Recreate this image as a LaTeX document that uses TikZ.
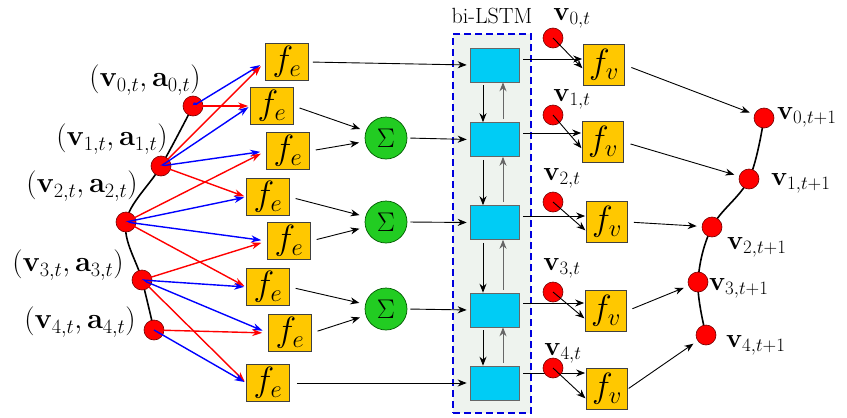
\RequirePackage{fix-cm}
\documentclass[tikz,border=0pt]{standalone}
\usetikzlibrary{arrows.meta}
\definecolor{gold}{HTML}{FFC800}
\definecolor{vred}{HTML}{FF0000}
\definecolor{sgreen}{HTML}{22CC22}
\definecolor{lcyan}{HTML}{00CCF5}
\definecolor{boxbg}{HTML}{EEF3EE}
\definecolor{dblue}{HTML}{0000DD}
\begin{document}
\begin{tikzpicture}[x=1pt,y=-1pt,
  vtx/.style={circle,fill=vred,draw=red!45!black,line width=0.6pt,minimum size=20pt,inner sep=0pt},
  fbox/.style={draw=black!75,line width=0.7pt,fill=gold,minimum width=43pt,minimum height=37pt,inner sep=0pt,font=\fontsize{35}{37}\selectfont},
  fvbox/.style={fbox,minimum width=41pt,minimum height=41pt},
  sumnode/.style={circle,fill=sgreen,draw=green!35!black,line width=0.7pt,minimum size=42pt,inner sep=0pt,font=\fontsize{27}{30}\selectfont},
  cell/.style={draw=black!60,line width=0.6pt,fill=lcyan,minimum width=49pt,minimum height=34pt,inner sep=0pt},
  lbl/.style={inner sep=0pt,font=\fontsize{29}{32}\selectfont},
  vlbl/.style={inner sep=0pt,font=\fontsize{27}{30}\selectfont},
  arr/.style={black,line width=0.9pt,-{Stealth[length=9pt,width=7pt]}},
  uparr/.style={black!60,line width=0.9pt,-{Stealth[length=9pt,width=7pt]}},
  redarr/.style={vred,line width=1.4pt,-{Stealth[length=10pt,width=7pt]}},
  bluearr/.style={blue,line width=1.4pt,-{Stealth[length=10pt,width=7pt]}},
  curve/.style={black,line width=1.6pt}
]
\useasboundingbox (0,0) rectangle (847,418);

% bi-LSTM container
\node[draw=dblue,line width=2.5pt,dash pattern=on 7pt off 4pt,fill=boxbg,minimum width=78pt,minimum height=379pt,inner sep=0pt] (lstm) at (492,223.5) {};
\node[lbl,font=\fontsize{22}{24}\selectfont] (lstmlbl) at (492,16) {bi-LSTM};

% left vertices
\coordinate (p0) at (193,106);
\coordinate (p1) at (161,166);
\coordinate (p2) at (126,222);
\coordinate (p3) at (142,280);
\coordinate (p4) at (154,330);
\draw[curve] plot[smooth,tension=0.6] coordinates {(p0) (p1) (p2) (p3) (p4)};
\node[vtx] (n0) at (p0) {};
\node[vtx] (n1) at (p1) {};
\node[vtx] (n2) at (p2) {};
\node[vtx] (n3) at (p3) {};
\node[vtx] (n4) at (p4) {};
\node[lbl] (l0) at (145,80) {$(\mathbf{v}_{0,t},\mathbf{a}_{0,t})$};
\node[lbl] (l1) at (112,139) {$(\mathbf{v}_{1,t},\mathbf{a}_{1,t})$};
\node[lbl] (l2) at (82,186) {$(\mathbf{v}_{2,t},\mathbf{a}_{2,t})$};
\node[lbl] (l3) at (68,265) {$(\mathbf{v}_{3,t},\mathbf{a}_{3,t})$};
\node[lbl] (l4) at (80,322) {$(\mathbf{v}_{4,t},\mathbf{a}_{4,t})$};

% f_e boxes
\node[fbox] (fe0) at (287,62) {$f_e$};
\node[fbox] (fe1) at (272,106) {$f_e$};
\node[fbox] (fe2) at (288,151) {$f_e$};
\node[fbox] (fe3) at (268,197) {$f_e$};
\node[fbox] (fe4) at (289,241) {$f_e$};
\node[fbox] (fe5) at (268,287) {$f_e$};
\node[fbox] (fe6) at (290,333) {$f_e$};
\node[fbox] (fe7) at (268,383) {$f_e$};

% red / blue edges
\draw[bluearr,{Circle[length=5pt]}-{Stealth[length=10pt,width=7pt]},shorten >=6pt] (n0.center) -- (fe0.west);
\draw[redarr,shorten >=2pt] (n0.center) -- (fe1.west);
\draw[redarr,shorten >=6pt] (n1.center) -- (fe0.west);
\draw[bluearr,shorten >=2pt] (n1.center) -- (fe1.west);
\draw[bluearr,shorten >=6pt] (n1.center) -- (fe2.west);
\draw[redarr,shorten >=2pt] (n1.center) -- (fe3.west);
\draw[redarr,shorten >=6pt] (n2.center) -- (fe2.west);
\draw[bluearr,shorten >=2pt] (n2.center) -- (fe3.west);
\draw[bluearr,shorten >=6pt] (n2.center) -- (fe4.west);
\draw[redarr,shorten >=2pt] (n2.center) -- (fe5.west);
\draw[redarr,shorten >=6pt] (n3.center) -- (fe4.west);
\draw[bluearr,shorten >=2pt] (n3.center) -- (fe5.west);
\draw[bluearr,shorten >=6pt] (n3.center) -- (fe6.west);
\draw[redarr,shorten >=2pt] (n3.center) -- (fe7.west);
\draw[redarr,shorten >=6pt] (n4.center) -- (fe6.west);
\draw[bluearr,shorten >=2pt] (n4.center) -- (fe7.west);

% sum nodes
\node[sumnode] (s1) at (386,138) {$\Sigma$};
\node[sumnode] (s2) at (386,222) {$\Sigma$};
\node[sumnode] (s3) at (386,309) {$\Sigma$};
\draw[arr,shorten <=6pt,shorten >=6pt] (fe1.east) -- (s1);
\draw[arr,shorten <=6pt,shorten >=6pt] (fe2.east) -- (s1);
\draw[arr,shorten <=6pt,shorten >=6pt] (fe3.east) -- (s2);
\draw[arr,shorten <=6pt,shorten >=6pt] (fe4.east) -- (s2);
\draw[arr,shorten <=6pt,shorten >=6pt] (fe5.east) -- (s3);
\draw[arr,shorten <=6pt,shorten >=6pt] (fe6.east) -- (s3);

% LSTM cells
\node[cell] (c0) at (494.5,65) {};
\node[cell] (c1) at (494.5,139.5) {};
\node[cell] (c2) at (494.5,222.5) {};
\node[cell] (c3) at (494.5,310) {};
\node[cell] (c4) at (494.5,383) {};
\draw[arr,shorten <=4pt,shorten >=3pt] (fe0.east) -- (c0.west);
\draw[arr,shorten <=3pt,shorten >=3pt] (s1.east) -- (c1.west);
\draw[arr,shorten <=3pt,shorten >=3pt] (s2.east) -- (c2.west);
\draw[arr,shorten <=3pt,shorten >=3pt] (s3.east) -- (c3.west);
\draw[arr,shorten <=7pt,shorten >=3pt] (fe7.east) -- (c4.west);
\foreach \a/\b in {c0/c1,c1/c2,c2/c3,c3/c4}{
  \draw[arr,shorten <=3pt] ([xshift=-11.5pt]\a.south) -- ([xshift=-11.5pt]\b.north);
  \draw[uparr,shorten <=3pt] ([xshift=8.5pt]\b.north) -- ([xshift=8.5pt]\a.south);
}

% f_v boxes
\node[fvbox] (fv0) at (604,65) {$f_v$};
\node[fvbox] (fv1) at (603,142) {$f_v$};
\node[fvbox] (fv2) at (607,222) {$f_v$};
\node[fvbox] (fv3) at (606,311) {$f_v$};
\node[fvbox] (fv4) at (607,389) {$f_v$};
\draw[arr,shorten <=4pt,shorten >=1pt] ([yshift=6pt]c0.east) -- ([yshift=6pt]c0.east -| fv0.west);
\draw[arr,shorten <=4pt,shorten >=1pt] ([yshift=6.5pt]c1.east) -- ([yshift=6.5pt]c1.east -| fv1.west);
\draw[arr,shorten <=4pt,shorten >=1pt] ([yshift=6.5pt]c2.east) -- ([yshift=6.5pt]c2.east -| fv2.west);
\draw[arr,shorten <=4pt,shorten >=1pt] ([yshift=7pt]c3.east) -- ([yshift=7pt]c3.east -| fv3.west);
\draw[arr,shorten <=4pt,shorten >=1pt] ([yshift=10pt]c4.east) -- ([yshift=10pt]c4.east -| fv4.west);

% small input vertices
\node[vtx] (sv0) at (553,38) {};
\node[vtx] (sv1) at (553,115) {};
\node[vtx] (sv2) at (553,202) {};
\node[vtx] (sv3) at (553,292) {};
\node[vtx] (sv4) at (553,368) {};
\node[vlbl] (vl0) at (572,18.5) {$\mathbf{v}_{0,t}$};
\node[vlbl] (vl1) at (572,99) {$\mathbf{v}_{1,t}$};
\node[vlbl] (vl2) at (562,178) {$\mathbf{v}_{2,t}$};
\node[vlbl] (vl3) at (562,268) {$\mathbf{v}_{3,t}$};
\node[vlbl] (vl4) at (563,353) {$\mathbf{v}_{4,t}$};
\draw[arr,shorten >=1pt] (sv0.center) -- ([yshift=-4pt]fv0.west);
\draw[arr,shorten >=1pt] (sv1.center) -- ([yshift=-7pt]fv1.west);
\draw[arr,shorten >=1pt] (sv2.center) -- ([yshift=-9pt]fv2.west);
\draw[arr,shorten >=1pt] (sv3.center) -- ([yshift=-8pt]fv3.west);
\draw[arr,shorten >=1pt] (sv4.center) -- ([yshift=-10pt]fv4.west);

% right vertices
\coordinate (q0) at (764,118);
\coordinate (q1) at (749,179);
\coordinate (q2) at (712,227);
\coordinate (q3) at (698,282);
\coordinate (q4) at (706,335);
\draw[curve] plot[smooth,tension=0.6] coordinates {(q0) (q1) (q2) (q3) (q4)};
\node[vtx] (r0) at (q0) {};
\node[vtx] (r1) at (q1) {};
\node[vtx] (r2) at (q2) {};
\node[vtx] (r3) at (q3) {};
\node[vtx] (r4) at (q4) {};
\node[vlbl,anchor=west] (rl0) at (777,117) {$\mathbf{v}_{0,t+1}$};
\node[vlbl,anchor=west] (rl1) at (771,183) {$\mathbf{v}_{1,t+1}$};
\node[vlbl,anchor=west] (rl2) at (727,247) {$\mathbf{v}_{2,t+1}$};
\node[vlbl,anchor=west] (rl3) at (709,288) {$\mathbf{v}_{3,t+1}$};
\node[vlbl,anchor=west] (rl4) at (726,345) {$\mathbf{v}_{4,t+1}$};
\draw[arr,shorten <=7pt,shorten >=5pt] (fv0.east) -- (r0);
\draw[arr,shorten <=7pt,shorten >=5pt] (fv1.east) -- (r1);
\draw[arr,shorten <=6pt,shorten >=5pt] (fv2.east) -- (r2);
\draw[arr,shorten <=6pt,shorten >=5pt] (fv3.east) -- (r3);
\draw[arr,shorten <=1pt,shorten >=5pt] (fv4.east) -- (r4);
\end{tikzpicture}
\end{document}
